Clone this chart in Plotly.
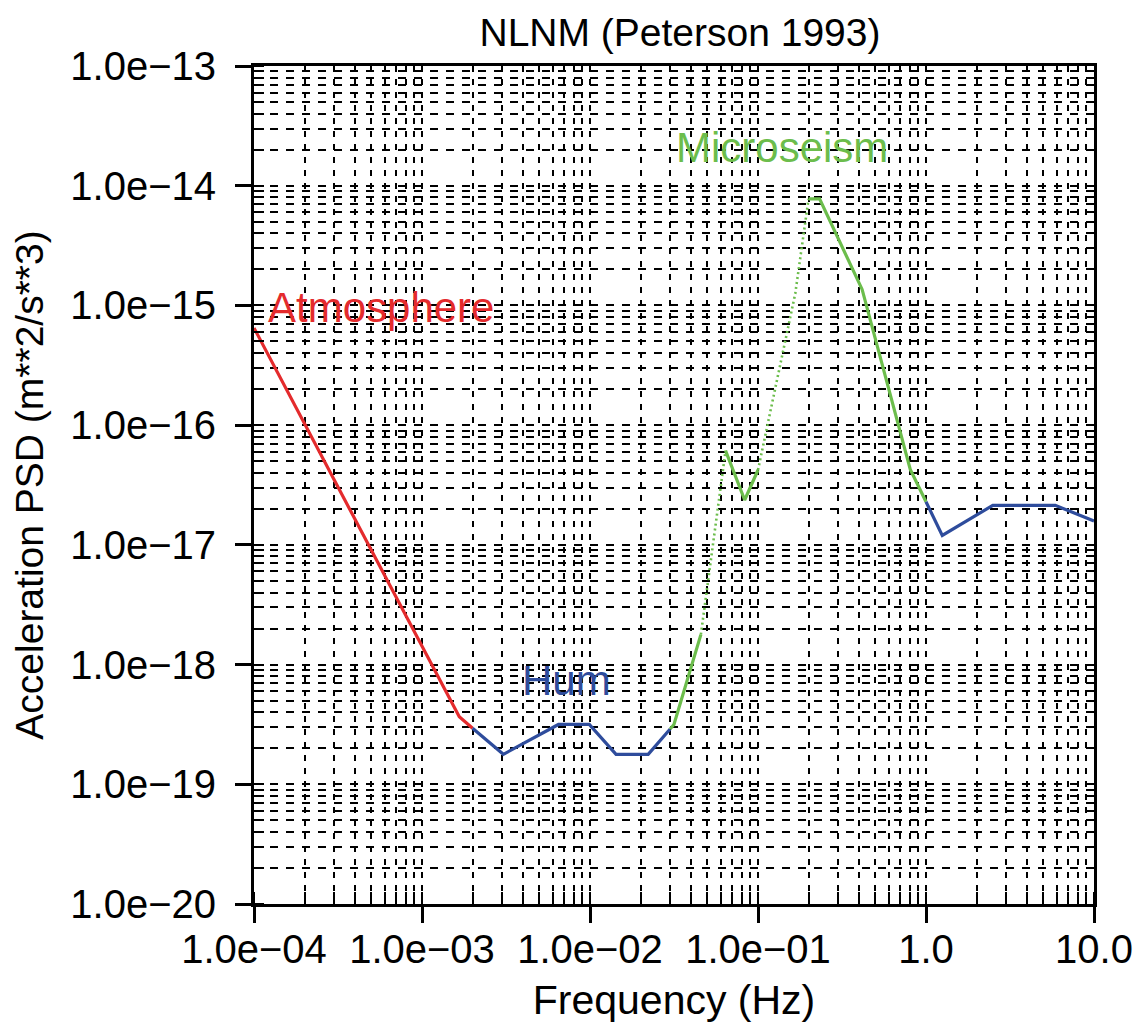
import plotly.graph_objects as go

# ---------------- data ----------------
# Atmosphere band (red)
ATM_FREQ = [1.0e-4, 1.667e-3, 2.0e-3]
ATM_PSD = [6.49e-16, 3.66e-19, 2.94e-19]

# Hum band (blue)
HUM_FREQ = [2.0e-3, 3.05e-3, 6.49e-3, 9.9e-3, 1.429e-2, 2.22e-2, 3.0e-2]
HUM_PSD = [2.94e-19, 1.78e-19, 3.16e-19, 3.16e-19, 1.78e-19, 1.78e-19, 2.90e-19]

# Microseism band (green)
MS_FREQ = [0.03, 0.0316, 0.0457, 0.0641, 0.0833, 0.1, 0.1667, 0.2, 0.2326, 0.4167, 0.806, 1.0]
MS_PSD = [2.90e-19, 3.16e-19, 1.78e-18, 6.12e-17, 2.37e-17, 4.22e-17,
          1.26e-15, 7.76e-15, 7.76e-15, 1.36e-15, 4.27e-17, 2.29e-17]
# pieces of the microseism curve: (start index, end index, dotted?)
MS_PIECES = [(0, 2, False), (2, 3, True), (3, 5, False), (5, 7, True), (7, 11, False)]

# High-frequency band (blue)
HF_FREQ = [1.0, 1.25, 2.5, 5.88, 10.0]
HF_PSD = [2.29e-17, 1.20e-17, 2.14e-17, 2.14e-17, 1.58e-17]

X_TICK_VALS = [1e-4, 1e-3, 1e-2, 1e-1, 1.0, 10.0]
X_TICK_LABELS = ["1.0e\u221204", "1.0e\u221203", "1.0e\u221202", "1.0e\u221201", "1.0", "10.0"]
Y_TICK_VALS = [1e-20, 1e-19, 1e-18, 1e-17, 1e-16, 1e-15, 1e-14, 1e-13]
Y_TICK_LABELS = ["1.0e\u221220", "1.0e\u221219", "1.0e\u221218", "1.0e\u221217",
                 "1.0e\u221216", "1.0e\u221215", "1.0e\u221214", "1.0e\u221213"]

RED = "#e42b2d"
BLUE = "#2e4c9c"
GREEN = "#6cbd4c"
FONT = "Liberation Sans, Arial, Helvetica, sans-serif"

fig = go.Figure()


def add_line(x, y, color, dotted=False):
    fig.add_trace(go.Scatter(
        x=x, y=y, mode="lines", showlegend=False, hoverinfo="skip",
        line=dict(color=color, width=2.6 if dotted else 3.2,
                  dash="2px,3px" if dotted else "solid"),
    ))


add_line(ATM_FREQ, ATM_PSD, RED)
add_line(HUM_FREQ, HUM_PSD, BLUE)
for s, e, dotted in MS_PIECES:
    add_line(MS_FREQ[s:e + 1], MS_PSD[s:e + 1], GREEN, dotted)
add_line(HF_FREQ, HF_PSD, BLUE)

label_font = dict(family=FONT, size=42)
fig.add_annotation(x=-3.93, y=-15.016, text="Atmosphere", showarrow=False,
                   xanchor="left", yanchor="middle", font=dict(label_font, color=RED))
fig.add_annotation(x=-2.142, y=-18.13, text="Hum", showarrow=False,
                   xanchor="center", yanchor="middle", font=dict(label_font, color=BLUE))
fig.add_annotation(x=-0.855, y=-13.677, text="Microseism", showarrow=False,
                   xanchor="center", yanchor="middle", font=dict(label_font, color=GREEN))

common = dict(
    type="log",
    showline=True, linewidth=3, linecolor="black", mirror=True,
    ticks="outside", ticklen=16, tickwidth=3, tickcolor="black",
    showgrid=True, gridcolor="black", gridwidth=1.8,
    zeroline=False,
    tickfont=dict(family=FONT, size=40, color="black"),
    tickmode="array",
)

fig.update_xaxes(
    **common,
    range=[-4, 1],
    tickvals=X_TICK_VALS, ticktext=X_TICK_LABELS,
    ticklabelstandoff=-8,
    griddash="6px,7px",
    minor=dict(dtick="D1", ticks="inside", ticklen=12, tickwidth=1.5, tickcolor="black",
               showgrid=True, gridcolor="black", gridwidth=1.8, griddash="6px,7px"),
    title=dict(text="Frequency (Hz)", font=dict(family=FONT, size=41, color="black"), standoff=16),
)
fig.update_yaxes(
    **common,
    range=[-20, -13],
    tickvals=Y_TICK_VALS, ticktext=Y_TICK_LABELS,
    ticklabelstandoff=11,
    griddash="8px,8px",
    minor=dict(dtick="D1", ticks="inside", ticklen=10, tickwidth=1.5, tickcolor="black",
               showgrid=True, gridcolor="black", gridwidth=1.8, griddash="8px,8px"),
    title=dict(text="Acceleration PSD (m**2/s**3)", font=dict(family=FONT, size=39, color="black"),
               standoff=18),
)

fig.update_layout(
    width=1134, height=1027,
    margin=dict(l=246, r=48, t=58, b=131, autoexpand=False),
    paper_bgcolor="white", plot_bgcolor="white",
    font=dict(family=FONT, color="black"),
    title=dict(text="NLNM (Peterson 1993)", x=672 / 1134, xref="container", xanchor="center",
               y=1 - 24 / 1027, yref="container", yanchor="middle",
               font=dict(family=FONT, size=39, color="black")),
)

fig.write_html("out.html")
